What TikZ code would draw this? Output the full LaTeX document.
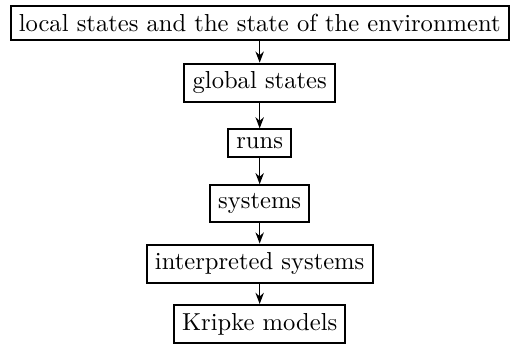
\documentclass[tikz,border=0pt]{standalone}
\usepackage{tikz}
\usetikzlibrary{arrows.meta,positioning}
\tikzset{
  box/.style={draw, thick, align=center},
  arr/.style={-{Stealth[length=1.6mm,width=1.2mm]}, semithick}}

\begin{document}
\begin{tikzpicture}[node distance=8.62mm, on grid]
  \node[box] (local) {local states and the state of the environment};
  \node[box, below=of local] (global) {global states};
  \node[box, below=of global] (runs) {runs};
  \node[box, below=of runs] (systems) {systems};
  \node[box, below=of systems] (interp) {interpreted systems};
  \node[box, below=of interp] (kripke) {Kripke models};
  \draw[arr] (local) -- (global); \draw[arr] (global) -- (runs);
  \draw[arr] (runs) -- (systems); \draw[arr] (systems) -- (interp);
  \draw[arr] (interp) -- (kripke);
  % margins as in the page
  \coordinate (bbnw) at ([xshift=-3.9pt,yshift=1.9pt]local.north west);
  \coordinate (bbse) at ([yshift=-0.4pt]kripke.south);
  \path (bbnw) rectangle ([xshift=0.5pt]local.east |- bbse);
\end{tikzpicture}
\end{document}
